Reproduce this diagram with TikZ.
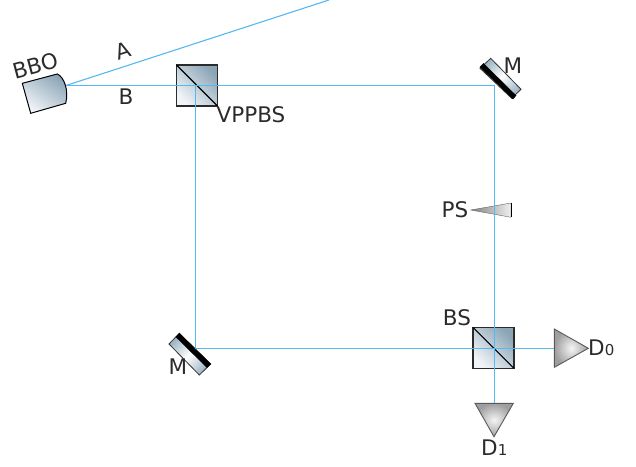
\documentclass[tikz,border=0pt]{standalone}
\usepackage{fontspec}
\setmainfont{DejaVu Sans}
\definecolor{beam}{HTML}{55B8F2}
\definecolor{cubelight}{HTML}{F2F5F8}
\definecolor{cubedark}{HTML}{8BA5B6}
\definecolor{mirrorend}{HTML}{9FB6C5}
\definecolor{ink}{HTML}{2B2B2B}
\tikzset{
  beamline/.style={draw=beam,line width=1.1pt},
  cube/.style={draw=ink,line width=1.3pt,minimum size=41pt,inner sep=0pt,outer sep=0pt,shading=axis,bottom color=cubelight,top color=cubedark,shading angle=-45},
  cubediag/.style={draw=black,line width=1.1pt},
  crystal/.style={draw=black,line width=1pt,shading=axis,bottom color=cubelight,top color=cubedark,shading angle=-35},
  mirrorbody/.style={draw=black!80,line width=.8pt,shading=axis,top color=mirrorend,bottom color=mirrorend,middle color=white},
  mirrorbar/.style={draw=black,fill=black,line width=.4pt},
  detector/.style={draw=black!65,line width=.9pt,inner color=black!4,outer color=black!38},
  wedge/.style={draw=black!60,line width=.4pt,left color=black!50,right color=black!6},
  lab/.style={text=ink,font=\fontsize{21.5}{25}\selectfont,inner sep=0pt},
}
\newcommand{\smallidx}[1]{{\fontsize{15}{17}\selectfont #1}}
\begin{document}
\begin{tikzpicture}[x=1pt,y=-1pt]
\useasboundingbox (0,0) rectangle (636,466);
% crystal
\coordinate (src) at (66,85.5);
\coordinate (Aend) at (329,0);
\path[crystal] (22.3,83.3) -- (57.3,74) .. controls (64,77) and (69,90) .. (65.7,103.3) -- (30.7,113.3) -- cycle;
% cubes
\node[cube] (vppbs) at (197,85.5) {};
\draw[cubediag] (vppbs.north west) -- (vppbs.south east);
\node[cube] (bs) at (493.5,347.8) {};
\draw[cubediag] (bs.north west) -- (bs.south east);
% mirrors
\coordinate (mt) at (494.5,85.5);
\coordinate (mb) at (195.5,348.5);
\path[mirrorbody,shading angle=45] (490.7,58.3) -- (521,89.3) -- (511.7,98.3) -- (480,68.3) -- cycle;
\path[mirrorbar] (480,67) -- (513,99) -- (516,95.5) -- (483.5,63.5) -- cycle;
\path[mirrorbody,shading angle=45] (179.3,333.3) -- (210.7,364) -- (199.3,375) -- (169,344) -- cycle;
\path[mirrorbar] (179.3,333.3) -- (210.7,364) -- (207,367.5) -- (176,337) -- cycle;
% wedge
\path[wedge] (470.7,210) -- (511,203) -- (511,217.3) -- cycle;
\draw[black,line width=1pt] (511,203) -- (511,217.3);
% detectors
\coordinate (d0in) at (554.3,348.5);
\coordinate (d1in) at (494.5,403.3);
\path[detector] (554.3,329) -- (588.3,348.3) -- (554.3,367.3) -- cycle;
\path[detector] (475,403.3) -- (513.3,403.3) -- (494,436.7) -- cycle;
% beams
\draw[beamline] (src) -- (Aend);
\draw[beamline] (src) -- (mt) -- (d1in);
\draw[beamline] (vppbs.center -| mb) -- (mb) -- (d0in);
% labels
\node[lab,rotate=15] (lbbo) at (35.5,66) {BBO};
\node[lab,rotate=18] (la) at (123,51) {A};
\node[lab] (lb) at (126,97) {B};
\node[lab] (lv) at (251,115) {VPPBS};
\node[lab] (lm1) at (513,66) {M};
\node[lab] (lps) at (455,210) {PS};
\node[lab] (lbs) at (457,318) {BS};
\node[lab,anchor=base west] (ld0) at (588,355.5) {D\smallidx{0}};
\node[lab,anchor=base west] (ld1) at (481,455) {D\smallidx{1}};
\node[lab] (lm2) at (178,367) {M};
\end{tikzpicture}
\end{document}
